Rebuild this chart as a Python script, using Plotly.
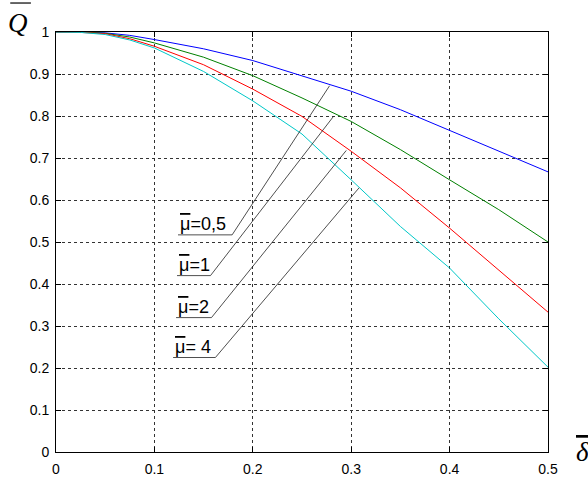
import plotly.graph_objects as go

# relative displacement (x axis)
delta = [0, 0.025, 0.05, 0.075, 0.1, 0.15, 0.2, 0.25, 0.3, 0.35, 0.4, 0.45, 0.5]

# Q values for each mu
q_mu05 = [1, 1.0, 0.998, 0.992, 0.982, 0.960, 0.932, 0.896, 0.859, 0.815, 0.766, 0.717, 0.667]
q_mu1 = [1, 1.0, 0.997, 0.988, 0.974, 0.940, 0.896, 0.843, 0.787, 0.720, 0.648, 0.577, 0.500]
q_mu2 = [1, 0.999, 0.996, 0.984, 0.966, 0.922, 0.864, 0.799, 0.716, 0.629, 0.533, 0.434, 0.333]
q_mu4 = [1, 0.999, 0.994, 0.981, 0.962, 0.906, 0.836, 0.757, 0.648, 0.537, 0.438, 0.317, 0.202]

series = [q_mu05, q_mu1, q_mu2, q_mu4]
colores = ["#0000ff", "#008000", "#ff0000", "#00c8c8"]

# etiquetas con linea guia
ol = "<span style='text-decoration:overline'>μ</span>"
etiquetas = [ol + "=0,5", ol + "=1", ol + "=2", ol + "= 4"]
lab_x0 = [0.124, 0.123, 0.122, 0.119]
lab_x1 = [0.179, 0.157, 0.158, 0.162]
lab_y = [0.517, 0.420, 0.320, 0.225]
tip_x = [0.278, 0.282, 0.295, 0.308]
tip_y = [0.872, 0.799, 0.718, 0.629]

fig = go.Figure()

for q, c in zip(series, colores):
    fig.add_trace(go.Scatter(x=delta, y=q, mode="lines",
                             line=dict(color=c, width=1), showlegend=False))

for i in range(len(etiquetas)):
    fig.add_trace(go.Scatter(x=[lab_x0[i], lab_x1[i], tip_x[i]],
                             y=[lab_y[i], lab_y[i], tip_y[i]],
                             mode="lines", line=dict(color="#222222", width=0.8),
                             showlegend=False, hoverinfo="skip"))
    fig.add_annotation(x=lab_x0[i], y=lab_y[i], text=etiquetas[i],
                       xanchor="left", yanchor="bottom", showarrow=False,
                       xshift=0, yshift=-1,
                       font=dict(family="Liberation Sans", size=18, color="black"))

eje = dict(showline=True, linecolor="black", linewidth=1, mirror="ticks",
           ticks="inside", ticklen=5, tickcolor="black", automargin=False,
           showgrid=True, gridcolor="#333333", griddash="3px,3px", gridwidth=0.8,
           zeroline=False, tickfont=dict(family="Liberation Sans", size=14, color="black"))

fig.update_xaxes(range=[0, 0.5], dtick=0.1, tickformat=".1~f", ticklabelstandoff=4, **eje)
fig.update_yaxes(range=[0, 1], dtick=0.1, tickformat=".1~f", ticklabelstandoff=3, **eje)

# titulos de ejes
fig.add_annotation(x=-0.077, y=1.021, xref="paper", yref="paper", text="<i>Q</i>",
                   showarrow=False, xanchor="center", yanchor="middle",
                   font=dict(family="Liberation Serif", size=27, color="black"))
fig.add_shape(type="line", xref="paper", yref="paper", x0=-0.093, x1=-0.051,
              y0=1.069, y1=1.069, line=dict(color="black", width=1.2))
fig.add_annotation(x=1.071, y=0.0, xref="paper", yref="paper",
                   text="<span style='text-decoration:overline'><i>δ</i></span>",
                   showarrow=False, xanchor="center", yanchor="middle",
                   font=dict(family="Liberation Serif", size=27, color="black"))

fig.update_layout(width=588, height=477, plot_bgcolor="white", paper_bgcolor="white",
                  margin=dict(l=56, r=40, t=32, b=25))

# quitar el margen de 8px del body
fig.write_html("out.html", config={"displayModeBar": False},
               post_script="document.body.style.margin='0px';")
